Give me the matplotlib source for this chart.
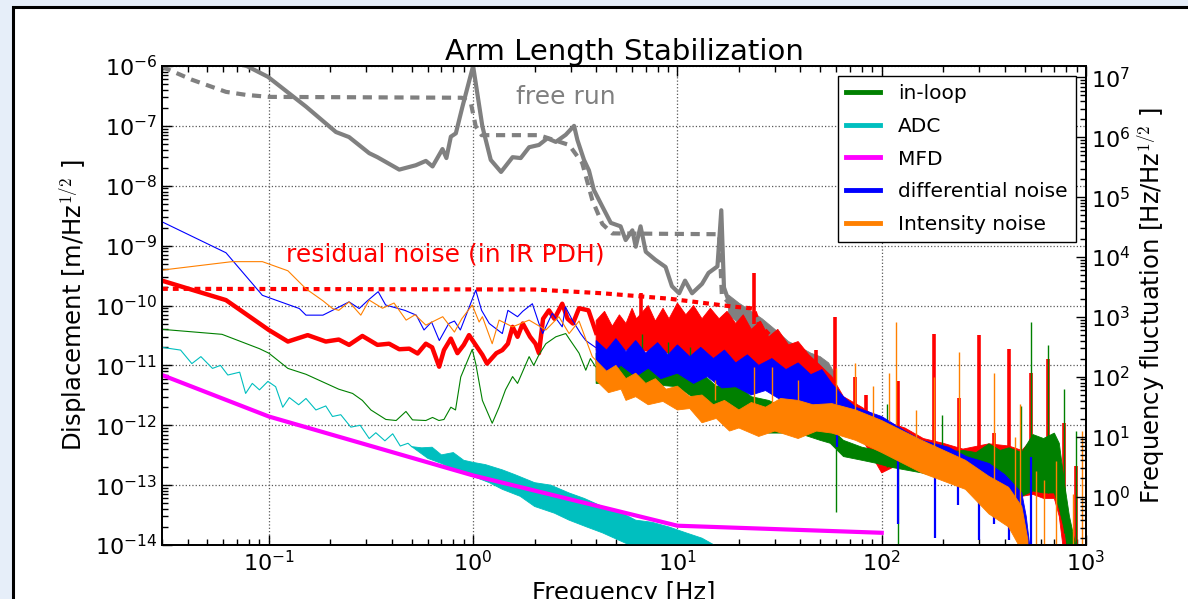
import matplotlib
matplotlib.use('Agg')
import matplotlib.pyplot as plt
from matplotlib.patches import Rectangle
from matplotlib.ticker import LogLocator, NullFormatter

plt.rcParams['font.family'] = ['DejaVu Sans']
plt.rcParams['mathtext.fontset'] = 'cm'
plt.rcParams['axes.unicode_minus'] = False

# ---------------- data ----------------
# free run, measured (grey solid)
free_f = [0.03, 0.05, 0.078, 0.099, 0.152, 0.213, 0.247, 0.31, 0.34, 0.435, 0.524, 0.587, 0.633, 0.708,
          0.74, 0.778, 0.823, 0.887, 1.0, 1.11, 1.22, 1.37, 1.56, 1.71, 1.88, 2.10, 2.31, 2.54, 2.84,
          3.12, 3.24, 3.49, 3.69, 3.90, 4.29, 4.72, 5.27, 5.58, 6.02, 6.25, 6.6, 7.0, 7.8, 8.75, 9.4,
          10.2, 10.9, 11.8, 13.2, 14.2, 15.7, 16.4, 16.9, 17.8]
free_v = [2.0e-6, 1.4e-6, 1.0e-6, 6.6e-7, 2.1e-7, 7.9e-8, 6.5e-8, 3.5e-8, 3.0e-8, 1.86e-8, 2.2e-8, 2.6e-8,
          2.1e-8, 4.1e-8, 2.9e-8, 6.6e-8, 7.5e-8, 2.1e-7, 1.0e-6, 9.8e-8, 2.7e-8, 1.7e-8, 3.0e-8, 2.9e-8,
          4.4e-8, 4.8e-8, 6.2e-8, 5.4e-8, 7.1e-8, 1.0e-7, 5.8e-8, 2.7e-8, 1.8e-8, 8.5e-9, 4.5e-9, 2.4e-9,
          2.1e-9, 1.24e-9, 1.8e-9, 9.6e-10, 2.1e-9, 7.9e-10, 5.8e-10, 4.4e-10, 2.1e-10, 1.6e-10, 2.6e-10,
          1.6e-10, 2.3e-10, 3.5e-10, 4.5e-10, 3.9e-9, 2.0e-10, 1.2e-10]
free_top_f = [17.8, 20, 23, 26, 30, 35, 40, 45, 50, 55, 58]
free_top_v = [1.5e-10, 1.1e-10, 8e-11, 6e-11, 4e-11, 2.5e-11, 2e-11, 1.6e-11, 1.4e-11, 1.1e-11, 8e-12]
free_bot_f = [17.8, 20, 23, 26, 30, 35, 40, 45, 50, 55, 58]
free_bot_v = [7e-11, 5e-11, 3.5e-11, 2.5e-11, 1.8e-11, 1.2e-11, 9e-12, 7e-12, 6e-12, 5e-12, 4e-12]

# free run, model (grey dashed)
model_f = [0.03, 0.042, 0.0617, 0.077, 0.1, 0.88, 0.975, 1.03, 1.1, 2.1, 2.95, 3.42, 3.83, 4.29, 4.8,
           16.0, 16.5, 18.5, 24.2, 32.5, 39.3, 50.0]
model_v = [9.7e-7, 5.9e-7, 3.7e-7, 3.3e-7, 3.05e-7, 2.95e-7, 2.4e-7, 9.8e-8, 7.0e-8, 7.0e-8, 4.8e-8,
           2.4e-8, 5.8e-9, 2.3e-9, 1.6e-9, 1.55e-9, 1.5e-10, 9.5e-11, 3.6e-11, 1.8e-11, 9.5e-12, 5e-12]

# residual noise model (red dashed)
resid_model_f = [0.03, 2.0, 4.3, 9.1, 18.6, 23.6, 25.0, 30.0, 35.0, 39.5, 40.0]
resid_model_v = [1.9e-10, 1.85e-10, 1.6e-10, 1.3e-10, 9.6e-11, 8.9e-11, 5e-11, 2.6e-11, 1.15e-11, 5.8e-12, 7e-13]

# residual noise in IR PDH (red solid)
resid_f = [0.03, 0.0617, 0.1, 0.124, 0.155, 0.19, 0.22, 0.247, 0.287, 0.34, 0.388, 0.435, 0.487, 0.535,
           0.587, 0.63, 0.682, 0.72, 0.778, 0.838, 0.9, 0.955, 1.07, 1.11, 1.17, 1.3, 1.39, 1.48, 1.56,
           1.65, 1.75, 1.9, 2.02, 2.10, 2.2, 2.35, 2.5, 2.73, 2.9, 3.08, 3.3, 3.67, 4.0]
resid_v = [2.6e-10, 1.23e-10, 3.9e-11, 2.5e-11, 3.2e-11, 2.5e-11, 2.7e-11, 2.2e-11, 3.1e-11, 2.2e-11,
           2.3e-11, 1.86e-11, 1.9e-11, 1.58e-11, 2.3e-11, 2.0e-11, 9.5e-12, 1.8e-11, 2.8e-11, 1.6e-11,
           2.2e-11, 3.2e-11, 1.8e-11, 1.5e-11, 1.07e-11, 1.6e-11, 1.8e-11, 2.3e-11, 4.4e-11, 3e-11, 5e-11,
           3e-11, 2.3e-11, 1.6e-11, 6e-11, 8.3e-11, 6e-11, 1.07e-10, 6e-11, 5e-11, 9e-11, 8.3e-11, 3.5e-11]
resid_top_f = [4.0, 4.4, 4.8, 5.2, 5.6, 6.0, 6.3, 7.2, 7.8, 8.5, 9.1, 10, 11, 12, 13.2, 14.5, 16, 17.5,
               19.3, 21, 23, 25.5, 28, 31, 35, 39, 44, 50, 57, 65, 80, 100, 130, 160, 200, 250, 335, 420,
               485, 550, 620, 700, 740, 770, 800]
resid_top_v = [5.6e-11, 8e-11, 4.5e-11, 7e-11, 5e-11, 9e-11, 6e-11, 1.0e-10, 5.5e-11, 9e-11, 6e-11,
               1.1e-10, 7e-11, 1.0e-10, 6e-11, 9e-11, 6e-11, 8e-11, 5e-11, 7e-11, 4e-11, 5.5e-11, 3e-11,
               4e-11, 2.2e-11, 2.5e-11, 1.5e-11, 1.0e-11, 6.5e-12, 3e-12, 2e-12, 1.2e-12, 9e-13, 6e-13,
               5e-13, 4e-13, 4.9e-13, 4.5e-13, 3.8e-13, 6e-13, 5e-13, 4.6e-13, 2.5e-13, 9e-14, 1e-14]
resid_bot_f = [4.0, 6.25, 9.1, 13.2, 19.3, 28.0, 39.0, 50.0, 57.0, 65.0, 80.0, 100.0, 130.0, 160.0,
               200.0, 250.0, 335.0, 420.0, 485.0, 550.0, 620.0, 700.0, 740.0, 770.0, 800.0]
resid_bot_v = [1.8e-11, 1.8e-11, 1.6e-11, 9.5e-12, 5e-12, 3.9e-12, 3.5e-12, 2.5e-12, 1.8e-12, 1.2e-12,
               6e-13, 1.6e-13, 2.5e-13, 2e-13, 1.5e-13, 1.2e-13, 9e-14, 7e-14, 6.5e-14, 7e-14, 6e-14,
               6e-14, 3e-14, 1e-14, 1e-15]
resid_spike_f = [6.6, 23.7, 47.8, 59.3, 73.8, 83.6, 119.5, 179.5, 239.0, 299.0, 355.0, 418.0, 538.0,
                 650.0, 780.0, 890.0]
resid_spike_top = [1.6e-10, 3.5e-10, 1.8e-11, 6.5e-11, 6.5e-12, 3.2e-12, 5.4e-12, 3.4e-11, 2.8e-12,
                   3.2e-11, 7.4e-13, 1.9e-11, 7.4e-12, 1.3e-11, 1.08e-12, 2.1e-13]
resid_spike_base = [5e-11, 5e-11, 5e-12, 5e-12, 1e-12, 1e-12, 5e-13, 2e-13, 2e-13, 1e-13, 1e-13, 1e-13,
                    1e-13, 1e-13, 5e-14, 1e-14]

# in-loop (green)
inloop_f = [0.03, 0.059, 0.09, 0.1, 0.124, 0.152, 0.22, 0.257, 0.287, 0.316, 0.374, 0.42, 0.469, 0.505,
            0.587, 0.633, 0.68, 0.72, 0.778, 0.82, 0.87, 0.99, 1.03, 1.11, 1.24, 1.34, 1.44, 1.56, 1.65,
            1.88, 1.98, 2.1, 2.27, 2.54, 2.84, 2.95, 3.3, 3.56, 3.75, 3.97]
inloop_v = [4e-11, 3.3e-11, 1.9e-11, 1.6e-11, 8.9e-12, 7.1e-12, 4e-12, 3.4e-12, 2.6e-12, 1.8e-12, 1.25e-12,
            1.2e-12, 1.7e-12, 1.23e-12, 1.2e-12, 1.35e-12, 1.2e-12, 1.25e-12, 2e-12, 1.8e-12, 6.4e-12,
            1.85e-11, 1.07e-11, 2.6e-12, 1.08e-12, 2.0e-12, 3.9e-12, 6.5e-12, 5e-12, 1.4e-11, 1e-11, 1.5e-11,
            2.3e-11, 3e-11, 3.4e-11, 2.8e-11, 1.6e-11, 8.3e-12, 1.3e-11, 9.5e-12]
inloop_top_f = [4.0, 4.7, 5.4, 6.25, 7.2, 8.3, 10, 11.5, 13.2, 15.5, 19.3, 23, 28, 33, 39, 45, 50, 56,
                65, 80, 95, 110, 130, 157, 200, 250, 290, 335, 380, 420, 485, 550, 620, 700, 740, 790,
                830, 890]
inloop_top_v = [1.6e-11, 9e-12, 1.3e-11, 8e-12, 1.1e-11, 7e-12, 9.5e-12, 6e-12, 7.4e-12, 4.5e-12, 5e-12,
                3e-12, 2.6e-12, 2e-12, 1.8e-12, 1.2e-12, 1.0e-12, 9e-13, 5.6e-13, 4.3e-13, 3.8e-13,
                3.5e-13, 2.8e-13, 2.6e-13, 3.5e-13, 3.8e-13, 3.5e-13, 4.9e-13, 3.8e-13, 4.2e-13, 3.5e-13,
                7e-13, 6e-13, 7.4e-13, 5e-13, 9.2e-14, 3e-14, 1e-14]
inloop_bot_f = [4.0, 6.25, 10.0, 13.2, 19.3, 28.0, 39.0, 50.0, 56.0, 65.0, 80.0, 95.0, 110.0, 130.0,
                157.0, 200.0, 250.0, 290.0, 335.0, 420.0, 485.0, 550.0, 620.0, 700.0, 740.0, 790.0,
                830.0, 890.0]
inloop_bot_v = [5e-12, 5e-12, 4.4e-12, 2.3e-12, 1.2e-12, 7.4e-13, 7.4e-13, 5.6e-13, 5e-13, 3e-13,
                2.6e-13, 2.3e-13, 2e-13, 1.8e-13, 1.6e-13, 1.3e-13, 1.1e-13, 1.1e-13, 8.5e-14, 7e-14,
                6.5e-14, 8e-14, 7.4e-14, 7.4e-14, 4e-14, 1.6e-14, 5e-15, 1e-15]
inloop_spike_f = [6.7, 9.0, 11.5, 16.0, 59.5, 105.6, 120.0, 197.0, 480.0, 540.0, 655.0, 780.0, 890.0]
inloop_spike_top = [3.4e-11, 2.5e-11, 2e-11, 1.5e-11, 4e-13, 2.3e-12, 2e-13, 1.5e-12, 2.1e-12, 5.3e-11,
                    2.2e-11, 4e-12, 8e-13]
inloop_spike_base = [5e-12, 5e-12, 4e-12, 2e-12, 3.6e-14, 2e-13, 1e-15, 1.3e-13, 6.5e-14, 8e-14,
                     7.4e-14, 1.6e-14, 1e-15]

# ADC (cyan)
adc_f = [0.03, 0.037, 0.042, 0.0465, 0.053, 0.058, 0.063, 0.072, 0.077, 0.083, 0.09, 0.099, 0.108,
         0.117, 0.126, 0.14, 0.152, 0.17, 0.19, 0.205, 0.225, 0.252, 0.28, 0.31, 0.334, 0.37, 0.404,
         0.44, 0.48, 0.5]
adc_v = [2.0e-11, 1.8e-11, 1.07e-11, 1.4e-11, 8.9e-12, 1e-11, 6.9e-12, 7.7e-12, 3.4e-12, 5e-12, 3.9e-12,
         5.4e-12, 4.4e-12, 2e-12, 2.9e-12, 2.2e-12, 2.8e-12, 1.8e-12, 2.1e-12, 1.4e-12, 1.5e-12, 9.3e-13,
         1.0e-12, 6e-13, 7.5e-13, 5.5e-13, 7.2e-13, 4.5e-13, 5e-13, 4.4e-13]
adc_top_f = [0.5, 0.56, 0.63, 0.7, 0.8, 0.9, 1.0, 1.15, 1.39, 1.6, 2.0, 2.4, 2.95, 3.5, 4.29, 5.2,
             6.25, 7.5, 9.1, 11, 13.2, 16.0]
adc_top_v = [4.4e-13, 4.2e-13, 4.3e-13, 3.2e-13, 3.5e-13, 2.6e-13, 2.4e-13, 2.2e-13, 1.8e-13, 1.5e-13,
             1.1e-13, 1.0e-13, 7.4e-14, 6e-14, 4.4e-14, 3.6e-14, 2.6e-14, 2.4e-14, 2e-14, 1.6e-14,
             1.3e-14, 9e-15]
adc_bot_f = [0.5, 0.6, 0.7, 0.85, 1.0, 1.2, 1.39, 1.7, 2.0, 2.5, 2.95, 3.6, 4.29, 6.25, 9.1, 13.2, 16.0]
adc_bot_v = [4.4e-13, 2.8e-13, 2.3e-13, 1.7e-13, 1.4e-13, 1.1e-13, 8.5e-14, 6.5e-14, 4.4e-14, 3.4e-14,
             2.6e-14, 2e-14, 1.6e-14, 9e-15, 6e-15, 4e-15, 3e-15]

# MFD (magenta)
mfd_f = [0.03, 0.1, 1.0, 10.0, 100.0]
mfd_v = [6.9e-12, 1.4e-12, 1.45e-13, 2.1e-14, 1.6e-14]

# differential noise (blue)
diff_f = [0.03, 0.0617, 0.093, 0.141, 0.152, 0.184, 0.205, 0.247, 0.277, 0.304, 0.343, 0.373, 0.463,
          0.527, 0.575, 0.626, 0.683, 0.76, 0.81, 0.866, 0.94, 1.03, 1.10, 1.2, 1.39, 1.48, 1.65, 1.75,
          1.95, 2.1, 2.19, 2.44, 2.73, 2.83, 3.06, 3.36, 3.56, 3.97]
diff_v = [2.5e-9, 7.6e-10, 1.48e-10, 8.9e-11, 6.9e-11, 6.9e-11, 8.3e-11, 1.15e-10, 8.9e-11, 1.2e-10,
          1.7e-10, 1.02e-10, 8.3e-11, 6.9e-11, 3.9e-11, 5.3e-11, 2.6e-11, 5e-11, 5.5e-11, 3.9e-11, 8e-11,
          1.8e-10, 8.3e-11, 5e-11, 3.4e-11, 8.3e-11, 6.5e-11, 8e-11, 1.07e-10, 5e-11, 3.4e-11, 7.4e-11,
          4.4e-11, 9.5e-11, 5.7e-11, 3.4e-11, 2.6e-11, 2e-11]
diff_top_f = [4.0, 4.5, 5.0, 5.6, 6.25, 7, 8, 9, 10, 11.5, 13, 15, 17, 19.3, 22, 25, 29, 34, 39, 45, 51,
              57, 65, 74.5, 100, 130, 157, 212, 260, 335, 400, 485, 510, 530]
diff_top_v = [2.6e-11, 1.8e-11, 2.8e-11, 1.7e-11, 2.6e-11, 1.6e-11, 2.4e-11, 1.5e-11, 2.2e-11, 1.4e-11,
              2e-11, 1.3e-11, 1.8e-11, 1.1e-11, 1.5e-11, 1.0e-11, 1.3e-11, 8.5e-12, 1.1e-11, 7e-12,
              8.5e-12, 5e-12, 3e-12, 2e-12, 1.4e-12, 8e-13, 5.6e-13, 4.3e-13, 3e-13, 2.3e-13, 1.5e-13,
              7.4e-14, 3e-14, 1e-14]
diff_bot_f = [4.0, 4.6, 5.3, 6.25, 7.2, 8.3, 10, 12, 14, 16.5, 19.3, 23, 27, 33, 39, 51, 57, 65, 74.5,
              100, 130, 157, 212, 260, 335, 400, 485, 510, 530]
diff_bot_v = [1.07e-11, 7e-12, 1.0e-11, 6.5e-12, 9e-12, 6e-12, 7.4e-12, 5e-12, 6.5e-12, 4.2e-12,
              4.4e-12, 3.2e-12, 3.8e-12, 2.5e-12, 2.6e-12, 1.8e-12, 1.5e-12, 1.2e-12, 9.3e-13, 5.6e-13,
              4e-13, 3e-13, 1.8e-13, 1.3e-13, 9.2e-14, 6e-14, 2e-14, 1e-14, 5e-15]
diff_dip_f = [60.1, 120.0, 182.0, 236.0, 300.0, 355.0, 420.0, 480.0, 540.0]
diff_dip_top = [1.5e-12, 5e-13, 2.5e-13, 1.4e-13, 1e-13, 7e-14, 4e-14, 2e-14, 3e-13]
diff_dip_bottom = [4.3e-13, 2.2e-14, 1.3e-14, 4.7e-14, 1.2e-14, 2.2e-14, 1.2e-14, 1e-15, 1e-15]

# intensity noise (orange)
inten_f = [0.03, 0.066, 0.093, 0.124, 0.152, 0.184, 0.205, 0.22, 0.247, 0.282, 0.31, 0.36, 0.41, 0.47,
           0.52, 0.587, 0.71, 0.81, 0.88, 0.99, 1.07, 1.11, 1.24, 1.34, 1.56, 1.88, 2.27, 2.63, 2.95,
           3.3, 3.83, 4.0]
inten_v = [3.9e-10, 5.4e-10, 5.4e-10, 3.8e-10, 1.9e-10, 1.2e-10, 8.9e-11, 8.3e-11, 1.15e-10, 6.9e-11,
           1.23e-10, 9e-11, 1.1e-10, 5.7e-11, 7e-11, 4.7e-11, 6.5e-11, 3.6e-11, 6e-11, 1.02e-10, 5.3e-11,
           6.5e-11, 2.3e-11, 5.7e-11, 4.4e-11, 5.7e-11, 3.9e-11, 6.5e-11, 3.4e-11, 5.5e-11, 1.4e-11, 1.2e-11]
inten_top_f = [4.0, 4.5, 5.0, 5.6, 6.25, 7.0, 7.8, 8.8, 10, 11.5, 13.2, 15, 17, 20, 23, 27, 32, 39, 46,
               57, 74.5, 100, 157, 257, 335, 418, 485, 520]
inten_top_v = [1.2e-11, 8e-12, 1.0e-11, 6e-12, 7.4e-12, 5e-12, 6e-12, 4e-12, 4.5e-12, 3e-12, 3.2e-12,
               2.2e-12, 2.6e-12, 1.8e-12, 2.4e-12, 2e-12, 2.8e-12, 2.6e-12, 2.2e-12, 2.3e-12, 1.8e-12,
               1.2e-12, 5.6e-13, 2.6e-13, 1.4e-13, 9.2e-14, 4.4e-14, 1.2e-14]
inten_bot_f = [4.0, 4.6, 5.3, 5.6, 6.25, 7.2, 8.5, 10, 11.5, 13.2, 15.5, 18, 20, 25, 30, 39, 48, 57,
               74.5, 100, 157, 257, 335, 418, 485, 520]
inten_bot_v = [5.6e-12, 3.5e-12, 4e-12, 2.6e-12, 3e-12, 2.2e-12, 2.5e-12, 1.8e-12, 1.9e-12, 1.1e-12,
               1.3e-12, 8e-13, 9e-13, 6.5e-13, 8e-13, 6e-13, 8e-13, 7.4e-13, 5.6e-13, 3.5e-13, 1.6e-13,
               8.5e-14, 3.3e-14, 2e-14, 8e-15, 5e-15]
inten_spike_f = [15.3, 23.7, 29.2, 39.0, 60.0, 74.0, 90.5, 108.0, 118.0, 148.0, 180.0, 240.0, 355.0,
                 448.0, 473.0, 570.0, 620.0, 716.0, 865.0, 960.0]
inten_spike_top = [5.6e-12, 9.5e-12, 9.5e-12, 5.6e-12, 9e-12, 1.1e-11, 4.6e-12, 7.4e-12, 5.3e-11, 1.8e-12,
                   6.4e-12, 1.7e-11, 7.4e-12, 6.4e-13, 2.3e-12, 1.7e-13, 1.2e-13, 2.5e-13, 7e-14, 7.9e-13]
inten_spike_base = [2.6e-12, 1.8e-12, 2e-12, 2.6e-12, 2.3e-12, 1.8e-12, 1.4e-12, 1.2e-12, 1e-12, 6e-13,
                    4e-13, 2e-13, 1.2e-13, 5e-14, 4e-14, 1e-15, 1e-15, 1e-15, 1e-15, 1e-15]

legend_labels = ['in-loop', 'ADC', 'MFD', 'differential noise', 'Intensity noise']

# ---------------- figure ----------------
W, H = 1188, 599
fig = plt.figure(figsize=(W / 100, H / 100), dpi=100)
fig.patch.set_facecolor('#e6eef9')
fig.add_artist(Rectangle((13 / W, -0.05), 1.2, 1.05 - 6.5 / H, transform=fig.transFigure,
                         facecolor='white', edgecolor='black', lw=2.2, zorder=-5))

pos = [162 / W, 1 - 545 / H, (1086 - 162) / W, (545 - 66) / H]
ax = fig.add_axes(pos)
ax2 = ax.twinx()
ax2.set_position(pos)

GREY = '#808080'
RED = '#ff0000'
GREEN = '#008000'
CYAN = '#00bfbf'
MAG = '#ff00ff'
BLUE = '#0000ff'
ORANGE = '#ff8000'


def band(top_f, top_v, bot_f, bot_v, color, z):
    ax.fill(list(top_f) + list(bot_f)[::-1], list(top_v) + list(bot_v)[::-1],
            color=color, lw=0.6, zorder=z)


# grey: free run
ax.plot(free_f, free_v, color=GREY, lw=3, zorder=2, solid_joinstyle='round')
band(free_top_f, free_top_v, free_bot_f, free_bot_v, GREY, 2)
ax.plot(model_f, model_v, color=GREY, lw=3, ls=(0, (2.2, 1.6)), zorder=2.5)

# red: residual
ax.plot(resid_f, resid_v, color=RED, lw=3.2, zorder=3, solid_joinstyle='round')
band(resid_top_f, resid_top_v, resid_bot_f, resid_bot_v, RED, 3)
ax.vlines(resid_spike_f, resid_spike_base, resid_spike_top, color=RED, lw=2.6, zorder=3)
ax.plot(resid_model_f, resid_model_v, color=RED, lw=3, ls=(0, (1.4, 1.2)), zorder=3.5)

# green: in-loop
l_in, = ax.plot(inloop_f, inloop_v, color=GREEN, lw=0.8, zorder=4)
band(inloop_top_f, inloop_top_v, inloop_bot_f, inloop_bot_v, GREEN, 4)
ax.vlines(inloop_spike_f, inloop_spike_base, inloop_spike_top, color=GREEN, lw=1.0, zorder=4)

# cyan: ADC
l_adc, = ax.plot(adc_f, adc_v, color=CYAN, lw=0.8, zorder=4.5)
band(adc_top_f, adc_top_v, adc_bot_f, adc_bot_v, CYAN, 4.5)

# blue: differential
l_diff, = ax.plot(diff_f, diff_v, color=BLUE, lw=0.8, zorder=5)
band(diff_top_f, diff_top_v, diff_bot_f, diff_bot_v, BLUE, 5)
ax.vlines(diff_dip_f, diff_dip_bottom, diff_dip_top, color=BLUE, lw=1.6, zorder=5)

# orange: intensity
l_int, = ax.plot(inten_f, inten_v, color=ORANGE, lw=0.8, zorder=6)
band(inten_top_f, inten_top_v, inten_bot_f, inten_bot_v, ORANGE, 6)
ax.vlines(inten_spike_f, inten_spike_base, inten_spike_top, color=ORANGE, lw=1.0, zorder=6)

# magenta: MFD
l_mfd, = ax.plot(mfd_f, mfd_v, color=MAG, lw=3, zorder=7)

ax.set_xscale('log')
ax.set_yscale('log')
ax.set_xlim(0.03, 1000)
ax.set_ylim(1e-14, 1e-6)
ax2.set_yscale('log')
ax2.set_ylim(10 ** -0.81, 10 ** 7.19)

ax.xaxis.set_major_locator(LogLocator(base=10, numticks=20))
ax.xaxis.set_minor_locator(LogLocator(base=10, subs=range(2, 10), numticks=20))
ax.xaxis.set_minor_formatter(NullFormatter())
ax.yaxis.set_major_locator(LogLocator(base=10, numticks=20))
ax.yaxis.set_minor_locator(LogLocator(base=10, subs=range(2, 10), numticks=20))
ax.yaxis.set_minor_formatter(NullFormatter())
ax2.yaxis.set_major_locator(LogLocator(base=10, numticks=20))
ax2.yaxis.set_minor_locator(LogLocator(base=10, subs=range(2, 10), numticks=20))
ax2.yaxis.set_minor_formatter(NullFormatter())

ax.tick_params(which='both', direction='in', top=True, labelsize=16, width=1)
ax.tick_params(which='major', length=7)
ax.tick_params(which='minor', length=4)
ax2.tick_params(which='both', direction='in', labelsize=16, width=1)
ax2.tick_params(which='major', length=7)
ax2.tick_params(which='minor', length=4)

ax.grid(True, which='major', ls=':', color='0.35', lw=0.9)
for a in (ax, ax2):
    for s in a.spines.values():
        s.set_linewidth(1.3)

ax.set_title('Arm Length Stabilization', fontsize=21, pad=3)
ax.set_xlabel('Frequency [Hz]', fontsize=17.5)
ax.set_ylabel(r'Displacement [m/Hz$^{1/2}$ ]', fontsize=17.5)
ax2.set_ylabel(r'Frequency fluctuation [Hz/Hz$^{1/2}$ ]', fontsize=17.5)

ax.text(2.85, 3.0e-7, 'free run', color=GREY, fontsize=18, ha='center', va='center', zorder=8)
ax.text(0.73, 7.2e-10, 'residual noise (in IR PDH)', color=RED, fontsize=18,
        ha='center', va='center', zorder=8)

leg = ax.legend([l_in, l_adc, l_mfd, l_diff, l_int], legend_labels, loc='upper right',
                fontsize=14.5, handlelength=1.7, handletextpad=0.9, borderaxespad=0.5,
                labelspacing=0.68, fancybox=False, framealpha=1, edgecolor='k')
leg.get_frame().set_linewidth(1.0)
leg.set_zorder(20)
for ln in leg.get_lines():
    ln.set_linewidth(3.5)

fig.savefig('out.png', dpi=100, facecolor=fig.get_facecolor())
